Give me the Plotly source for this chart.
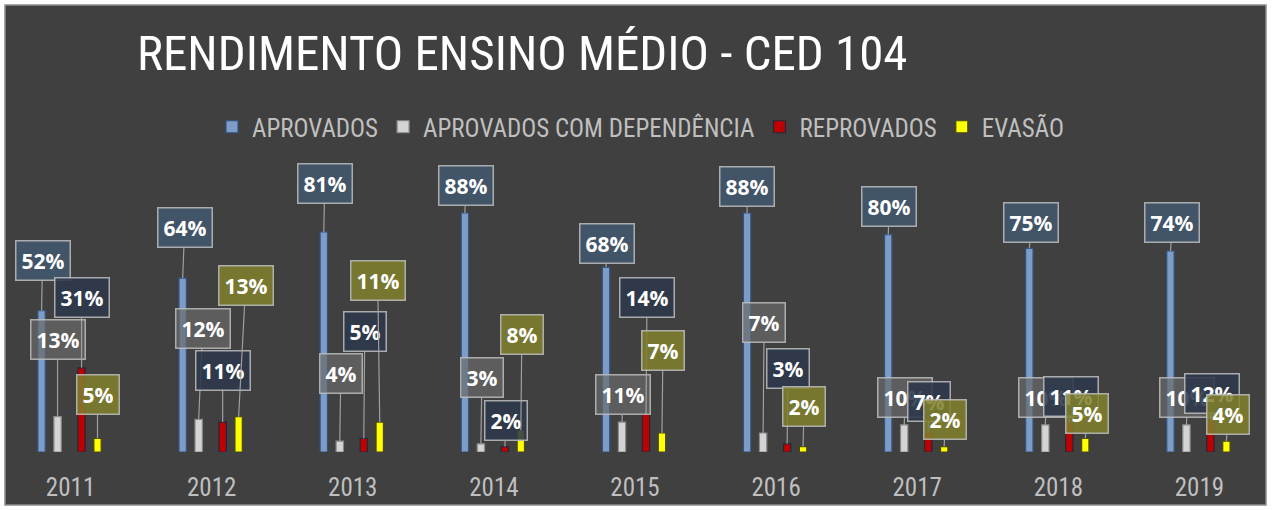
import plotly.graph_objects as go

# ---- data ----
years = ["2011", "2012", "2013", "2014", "2015", "2016", "2017", "2018", "2019"]
series_names = ["APROVADOS", "APROVADOS COM DEPENDÊNCIA", "REPROVADOS", "EVASÃO"]
aprovados = [52, 64, 81, 88, 68, 88, 80, 75, 74]
aprovados_dep = [13, 12, 4, 3, 11, 7, 10, 10, 10]
reprovados = [31, 11, 5, 2, 14, 3, 7, 11, 12]
evasao = [5, 13, 11, 8, 7, 2, 2, 5, 4]
series_values = [aprovados, aprovados_dep, reprovados, evasao]

# ---- styles ----
bar_fill = ["#7d9dc8", "#d4d4d4", "#c00000", "#ffff00"]
bar_edge = ["#34557f", "#8a8a8a", "#1f2a3c", "#4a4a14"]
box_fill = ["rgba(66,86,108,0.90)", "rgba(105,105,105,0.70)",
            "rgba(44,56,74,0.88)", "rgba(128,128,44,0.86)"]
box_edge = "rgba(190,190,190,0.85)"
bar_center = [-0.2055, -0.0921, 0.078, 0.191]   # offset of each series within a year group
bar_w = 0.052

# callout offsets (pixels) from bar top to label box centre
label_dx = [
    [1, 0, 0, 0], [2, 4, 0, 7], [1, 1, 1, -2], [1, 1, 1, 1], [1, 1, 1, 1],
    [0, 1, 1, 1], [1, 1, 1, 1], [2, 1, 2, 2], [2, 1, 2, 2],
]
label_dy = [
    [-50, -77, -70, -44], [-51, -91, -52, -131], [-49, -68, -107, -142],
    [-27, -66, -26, -96], [-24, -28, -116, -82], [-26, -110, -75, -40],
    [-28, -27, -31, -27], [-26, -27, -26, -25], [-29, -27, -26, -27],
]

NARROW = "Liberation Sans Narrow, Roboto Condensed, Roboto, sans-serif"

fig = go.Figure()
for s, name in enumerate(series_names):
    fig.add_trace(go.Bar(
        x=years, y=series_values[s], name=name,
        width=bar_w, offset=bar_center[s] - bar_w / 2,
        marker=dict(color=bar_fill[s], line=dict(color=bar_edge[s], width=1.2)),
        hoverinfo="x+y+name",
    ))

annotations = []
for s in range(len(series_names)):
    for i, v in enumerate(series_values[s]):
        annotations.append(dict(
            x=i + bar_center[s], y=v, xref="x", yref="y",
            text=f"{v}%", showarrow=True, arrowhead=0, arrowwidth=1.2,
            arrowcolor="rgba(170,170,170,0.9)", standoff=0,
            ax=label_dx[i][s], ay=label_dy[i][s],
            font=dict(family="Open Sans, sans-serif", size=21, color="white", weight="bold"),
            bgcolor=box_fill[s], bordercolor=box_edge, borderwidth=1.5, borderpad=5,
        ))

# dark panel behind the chart
shapes = [dict(type="rect", xref="paper", yref="paper", layer="below",
               x0=5 / 1270, x1=1266 / 1270, y0=-53 / 302, y1=447 / 302,
               fillcolor="#404040", line=dict(color="#8c8c8c", width=1.5))]

fig.update_layout(
    width=1272, height=510,
    margin=dict(l=0, r=2, t=150, b=58),
    paper_bgcolor="white", plot_bgcolor="rgba(0,0,0,0)",
    barmode="overlay",
    title=dict(text="RENDIMENTO ENSINO MÉDIO - CED 104", xref="container", yref="container",
               x=137 / 1272, xanchor="left", y=1 - 53 / 510, yanchor="middle",
               font=dict(family=NARROW, size=49, color="white")),
    legend=dict(orientation="h", x=641 / 1270, xanchor="center", y=(452 - 127) / 302, yanchor="middle",
                font=dict(family=NARROW, size=25, color="#bfbfbf"), bgcolor="rgba(0,0,0,0)",
                itemwidth=30, traceorder="normal"),
    xaxis=dict(range=[-0.5, 8.5], showgrid=False, zeroline=False, showline=False, ticks="",
               tickfont=dict(family=NARROW, size=25, color="#bfbfbf"), ticklabelstandoff=18),
    yaxis=dict(range=[0, 302 / 2.716], visible=False, showgrid=False, zeroline=False),
    annotations=annotations, shapes=shapes,
    showlegend=True,
)

fig.write_html("out.html", config={"displayModeBar": False},
               post_script="document.body.style.margin='0';document.body.style.padding='0';")
